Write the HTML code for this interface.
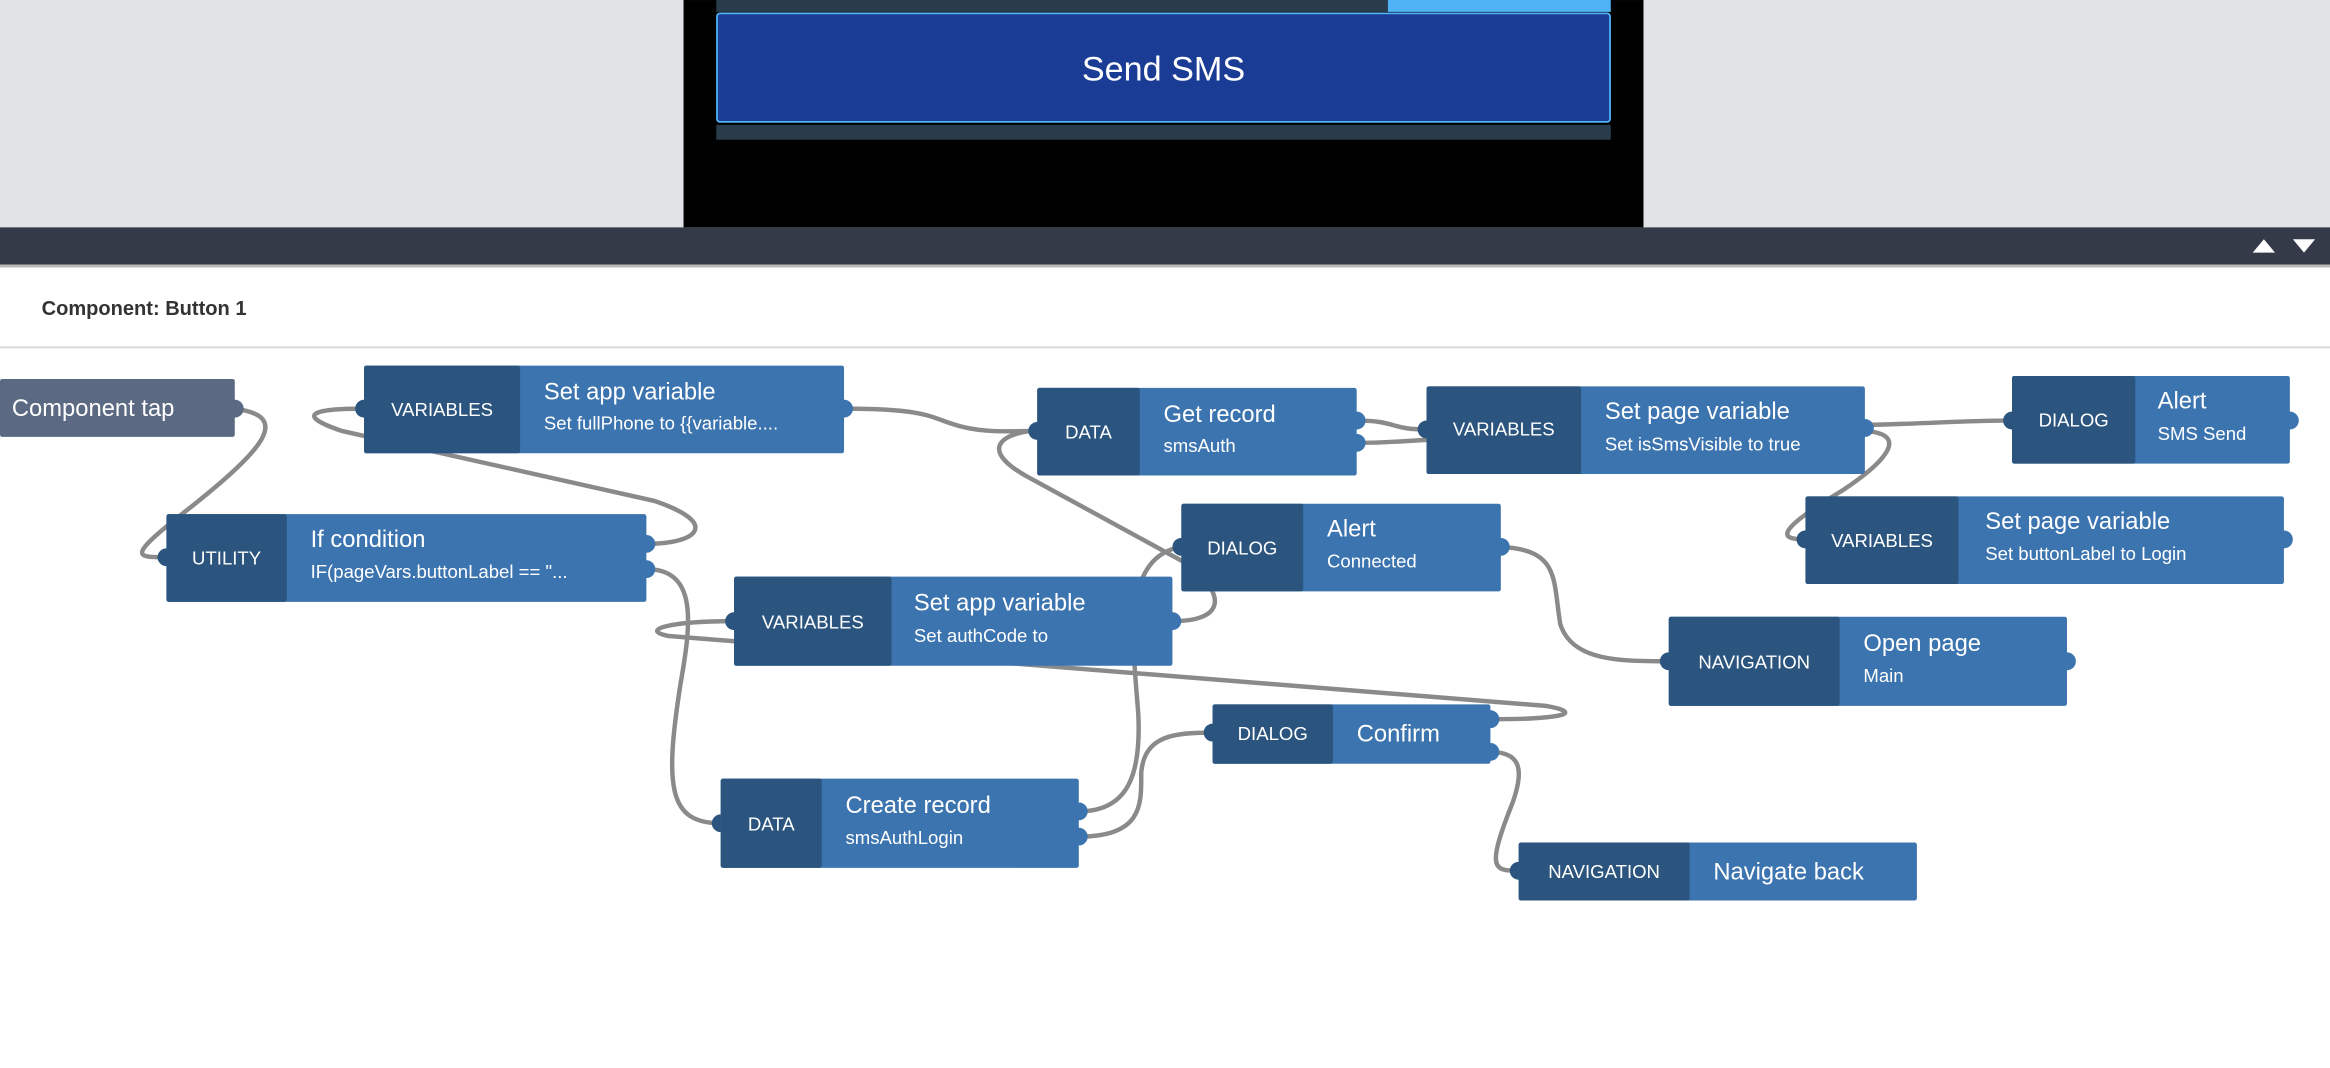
<!DOCTYPE html>
<html><head><meta charset="utf-8"><style>
html,body{margin:0;padding:0;width:2330px;height:1068px;overflow:hidden;background:#fff;font-family:"Liberation Sans",sans-serif}
</style></head><body>
<svg width="2330" height="1068" viewBox="0 0 1568 718.7" xmlns="http://www.w3.org/2000/svg" style="position:absolute;left:0;top:0">
<rect x="0" y="0" width="1568" height="153" fill="#e2e3e7"/>
<rect x="460" y="0" width="646" height="153" fill="#000"/>
<rect x="482" y="0" width="452" height="8" fill="#283c4b"/>
<rect x="934" y="0" width="150" height="8" fill="#4fb3f6"/>
<rect x="482" y="84" width="602" height="10" fill="#283c4b"/>
<rect x="482.5" y="9" width="601" height="73" rx="2" fill="#1a3c94" stroke="#4fb3f6" stroke-width="1.2"/>
<text x="783" y="54" text-anchor="middle" font-size="23" fill="#fff">Send SMS</text>
<rect x="0" y="153" width="1568" height="25" fill="#343a48"/>
<rect x="0" y="178" width="1568" height="2" fill="#b8b8b8"/>
<polygon points="1516,170 1531,170 1523.5,161" fill="#fff"/>
<polygon points="1543,161 1558,161 1550.5,170" fill="#fff"/>
<text x="28" y="212" font-size="13.5" font-weight="bold" fill="#333">Component: Button 1</text>
<rect x="0" y="233" width="1568" height="1.5" fill="#dcdcdc"/>

<g fill="none" stroke="#8a8a8a" stroke-width="3">
<path d="M158,275 C195,280 180,300 130,340 C85,375 90,375 112,375"/>
<path d="M435,366 C470,366 485,352 440,337 L230,290 C195,278 215,275 245,275"/>
<path d="M435,383 C470,383 465,420 458,460 C447,530 450,554 485,554"/>
<path d="M568,275 C620,275 625,280 640,285 C660,292 680,290 698,290"/>
<path d="M789,418 C825,418 825,400 800,380 L690,320 C655,300 680,290 698,290"/>
<path d="M913,283 C940,283 935,289 960,289"/>
<path d="M913,298 C935,298 940,297 960,296"/>
<path d="M1255,286 C1300,285 1320,283 1354,283"/>
<path d="M1255,290 C1285,292 1270,310 1240,330 C1190,360 1200,363 1215,363"/>
<path d="M726,546 C760,546 768,520 766,480 C762,430 755,375 795,368"/>
<path d="M726,563 C770,563 768,540 768,520 C770,495 790,493 816,493"/>
<path d="M1010,368 C1050,370 1045,390 1050,420 C1058,445 1090,445 1123,445"/>
<path d="M494,418 C450,418 430,424 450,428 L1040,475 C1068,480 1050,484 1003,484"/>
<path d="M1003,506 C1025,506 1025,520 1018,540 C1000,585 1005,586 1022,586"/>
</g>

<g fill="#2b547e">
<circle cx="245" cy="275" r="6"/><circle cx="112" cy="375" r="6"/><circle cx="698" cy="290" r="6"/>
<circle cx="960" cy="289" r="6"/><circle cx="1354" cy="283" r="6"/><circle cx="1215" cy="363" r="6"/>
<circle cx="795" cy="368" r="6"/><circle cx="494" cy="418" r="6"/><circle cx="1123" cy="445" r="6"/>
<circle cx="816" cy="493" r="6"/><circle cx="485" cy="554" r="6"/><circle cx="1022" cy="586" r="6"/>
</g>
<g fill="#3c74af">
<circle cx="568" cy="275" r="6"/><circle cx="435" cy="366" r="6"/><circle cx="435" cy="383" r="6"/>
<circle cx="913" cy="283" r="6"/><circle cx="913" cy="298" r="6"/><circle cx="1255" cy="288" r="6"/>
<circle cx="1541" cy="283" r="6"/><circle cx="1537" cy="363" r="6"/><circle cx="1010" cy="368" r="6"/>
<circle cx="789" cy="418" r="6"/><circle cx="1391" cy="445" r="6"/><circle cx="1003" cy="484" r="6"/>
<circle cx="1003" cy="506" r="6"/><circle cx="726" cy="546" r="6"/><circle cx="726" cy="563" r="6"/>
</g>
<circle cx="158" cy="275" r="6" fill="#5b6a82"/>

<rect x="0" y="255" width="158" height="39" rx="1.5" fill="#5b6a82"/>
<text x="8" y="280" font-size="16" fill="#fff">Component tap</text>

<g font-size="12.5" fill="#fff">
<!-- node helper: dark + light -->
<rect x="245" y="246" width="323" height="59" rx="1.5" fill="#3c74af"/><rect x="245" y="246" width="105" height="59" rx="1.5" fill="#2b547e"/>
<text x="297.5" y="280" text-anchor="middle">VARIABLES</text>
<text x="366" y="269" font-size="16">Set app variable</text><text x="366" y="289" font-size="12.5">Set fullPhone to {{variable....</text>

<rect x="112" y="346" width="323" height="59" rx="1.5" fill="#3c74af"/><rect x="112" y="346" width="81" height="59" rx="1.5" fill="#2b547e"/>
<text x="152.5" y="380" text-anchor="middle">UTILITY</text>
<text x="209" y="368" font-size="16">If condition</text><text x="209" y="389">IF(pageVars.buttonLabel == "...</text>

<rect x="698" y="261" width="215" height="59" rx="1.5" fill="#3c74af"/><rect x="698" y="261" width="69" height="59" rx="1.5" fill="#2b547e"/>
<text x="732.5" y="295" text-anchor="middle">DATA</text>
<text x="783" y="284" font-size="16">Get record</text><text x="783" y="304">smsAuth</text>

<rect x="960" y="260" width="295" height="59" rx="1.5" fill="#3c74af"/><rect x="960" y="260" width="104" height="59" rx="1.5" fill="#2b547e"/>
<text x="1012" y="293" text-anchor="middle">VARIABLES</text>
<text x="1080" y="282" font-size="16">Set page variable</text><text x="1080" y="303">Set isSmsVisible to true</text>

<rect x="1354" y="253" width="187" height="59" rx="1.5" fill="#3c74af"/><rect x="1354" y="253" width="83" height="59" rx="1.5" fill="#2b547e"/>
<text x="1395.5" y="287" text-anchor="middle">DIALOG</text>
<text x="1452" y="275" font-size="16">Alert</text><text x="1452" y="296">SMS Send</text>

<rect x="1215" y="334" width="322" height="59" rx="1.5" fill="#3c74af"/><rect x="1215" y="334" width="103" height="59" rx="1.5" fill="#2b547e"/>
<text x="1266.5" y="368" text-anchor="middle">VARIABLES</text>
<text x="1336" y="356" font-size="16">Set page variable</text><text x="1336" y="377">Set buttonLabel to Login</text>

<rect x="795" y="339" width="215" height="59" rx="1.5" fill="#3c74af"/><rect x="795" y="339" width="82" height="59" rx="1.5" fill="#2b547e"/>
<text x="836" y="373" text-anchor="middle">DIALOG</text>
<text x="893" y="361" font-size="16">Alert</text><text x="893" y="382">Connected</text>

<rect x="494" y="388" width="295" height="60" rx="1.5" fill="#3c74af"/><rect x="494" y="388" width="106" height="60" rx="1.5" fill="#2b547e"/>
<text x="547" y="423" text-anchor="middle">VARIABLES</text>
<text x="615" y="411" font-size="16">Set app variable</text><text x="615" y="432">Set authCode to</text>

<rect x="1123" y="415" width="268" height="60" rx="1.5" fill="#3c74af"/><rect x="1123" y="415" width="115" height="60" rx="1.5" fill="#2b547e"/>
<text x="1180.5" y="450" text-anchor="middle">NAVIGATION</text>
<text x="1254" y="438" font-size="16">Open page</text><text x="1254" y="459">Main</text>

<rect x="816" y="474" width="187" height="40" rx="1.5" fill="#3c74af"/><rect x="816" y="474" width="81" height="40" rx="1.5" fill="#2b547e"/>
<text x="856.5" y="498" text-anchor="middle">DIALOG</text>
<text x="913" y="499" font-size="16">Confirm</text>

<rect x="485" y="524" width="241" height="60" rx="1.5" fill="#3c74af"/><rect x="485" y="524" width="68" height="60" rx="1.5" fill="#2b547e"/>
<text x="519" y="559" text-anchor="middle">DATA</text>
<text x="569" y="547" font-size="16">Create record</text><text x="569" y="568">smsAuthLogin</text>

<rect x="1022" y="567" width="268" height="39" rx="1.5" fill="#3c74af"/><rect x="1022" y="567" width="115" height="39" rx="1.5" fill="#2b547e"/>
<text x="1079.5" y="591" text-anchor="middle">NAVIGATION</text>
<text x="1153" y="592" font-size="16">Navigate back</text>
</g>
</svg>
</body></html>
